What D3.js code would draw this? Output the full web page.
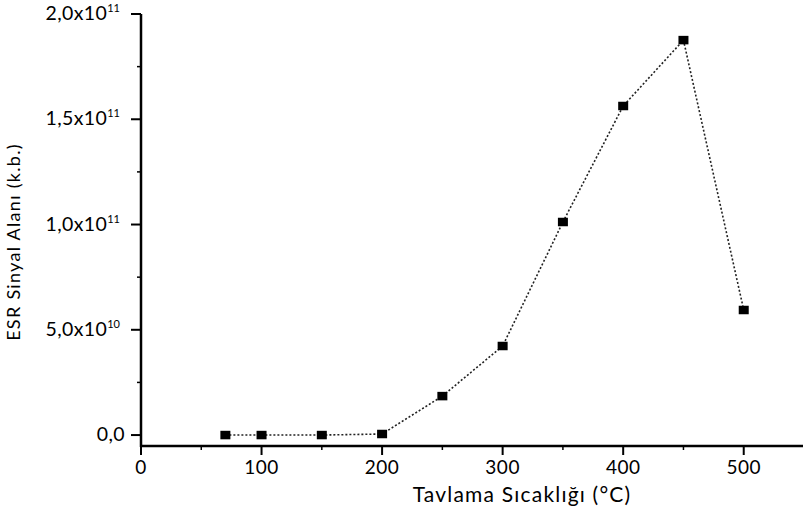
<!DOCTYPE html>
<html>
<head>
<meta charset="utf-8">
<script src="https://cdn.jsdelivr.net/npm/d3@7/dist/d3.min.js"></script>
<style>
  html, body { margin: 0; padding: 0; background: #fff; }
  svg { display: block; }
  text { font-family: Lato, "Open Sans", sans-serif; fill: #000; }
</style>
</head>
<body>
<svg id="chart" width="803" height="512"></svg>
<script>
// Annealing temperature (°C) and ESR signal area (arbitrary units)
const temperatures = [70, 100, 150, 200, 250, 300, 350, 400, 450, 500];
const signalArea = [0, 0, 0, 0.05e10, 1.85e10, 4.23e10, 1.012e11, 1.563e11, 1.876e11, 5.94e10];
const xTicks = [0, 100, 200, 300, 400, 500];
const yTicks = [0, 5e10, 1e11, 1.5e11, 2e11];
const yTickMantissa = ["0,0", "5,0", "1,0", "1,5", "2,0"];
const yTickExponent = ["", "10", "11", "11", "11"];
const xTitle = "Tavlama Sıcaklığı (°C)";
const yTitle = "ESR Sinyal Alanı (k.b.)";

const svg = d3.select("#chart");
const plotLeft = 141, plotRight = 804, plotTop = 14, plotBottom = 446;

const x = d3.scaleLinear().domain([0, 550]).range([plotLeft, plotRight]);
const y = d3.scaleLinear().domain([-5.2e9, 2e11]).range([plotBottom, plotTop]);

// Minor ticks
const xMinor = d3.range(50, 550, 100);
const yMinor = [2.5e10, 7.5e10, 1.25e11, 1.75e11];

svg.append("g").selectAll("line").data(xMinor).join("line")
  .attr("x1", d => x(d)).attr("x2", d => x(d))
  .attr("y1", plotBottom).attr("y2", plotBottom + 4)
  .attr("stroke", "#000").attr("stroke-width", 1.5);
svg.append("g").selectAll("line").data(yMinor).join("line")
  .attr("x1", plotLeft - 4).attr("x2", plotLeft)
  .attr("y1", d => y(d)).attr("y2", d => y(d))
  .attr("stroke", "#000").attr("stroke-width", 1.5);

// Major ticks
svg.append("g").selectAll("line").data(xTicks).join("line")
  .attr("x1", d => x(d)).attr("x2", d => x(d))
  .attr("y1", plotBottom).attr("y2", plotBottom + 9)
  .attr("stroke", "#000").attr("stroke-width", 2);
svg.append("g").selectAll("line").data(yTicks).join("line")
  .attr("x1", plotLeft - 10).attr("x2", plotLeft)
  .attr("y1", d => y(d)).attr("y2", d => y(d))
  .attr("stroke", "#000").attr("stroke-width", 2);

// Axis lines
svg.append("line").attr("x1", plotLeft).attr("x2", plotLeft).attr("y1", plotTop).attr("y2", plotBottom + 1)
  .attr("stroke", "#000").attr("stroke-width", 2.5);
svg.append("line").attr("x1", plotLeft - 1).attr("x2", plotRight).attr("y1", plotBottom).attr("y2", plotBottom)
  .attr("stroke", "#000").attr("stroke-width", 2.5);

// X tick labels
svg.append("g").selectAll("text").data(xTicks).join("text")
  .attr("x", d => x(d)).attr("y", 474)
  .attr("text-anchor", "middle")
  .style("font-size", "19px")
  .style("letter-spacing", "0.5px")
  .text(d => d);

// Y tick labels with superscript exponent
const yLab = svg.append("g").selectAll("text").data(yTicks).join("text")
  .attr("x", (d, i) => yTickExponent[i] ? 120 : 125)
  .attr("y", d => y(d) + 6)
  .attr("text-anchor", "end")
  .style("font-size", "19.5px")
  .style("letter-spacing", "0.4px");
yLab.each(function(d, i) {
  const t = d3.select(this);
  if (yTickExponent[i]) {
    t.append("tspan").text(yTickMantissa[i] + "x10");
    t.append("tspan").attr("dy", -8).style("font-size", "11px").style("letter-spacing", "0px")
      .text(yTickExponent[i]);
  } else {
    t.append("tspan").text(yTickMantissa[i]);
  }
});

// Axis titles
svg.append("text").attr("x", 522).attr("y", 502)
  .attr("text-anchor", "middle").style("font-size", "21px")
  .style("letter-spacing", "1.2px").text(xTitle);
svg.append("text")
  .attr("transform", `translate(20,242) rotate(-90)`)
  .attr("text-anchor", "middle").style("font-size", "18px")
  .style("letter-spacing", "1.3px").text(yTitle);

// Dotted connecting line
const line = d3.line().x((d, i) => x(temperatures[i])).y(d => y(d));
svg.append("path").datum(signalArea)
  .attr("d", line).attr("fill", "none")
  .attr("stroke", "#222").attr("stroke-width", 1.6)
  .attr("stroke-dasharray", "2,2");

// Square markers
const mw = 10, mh = 8.5;
svg.append("g").selectAll("rect").data(signalArea).join("rect")
  .attr("x", (d, i) => x(temperatures[i]) - mw / 2)
  .attr("y", d => y(d) - mh / 2)
  .attr("width", mw).attr("height", mh)
  .attr("fill", "#000");
</script>
</body>
</html>
